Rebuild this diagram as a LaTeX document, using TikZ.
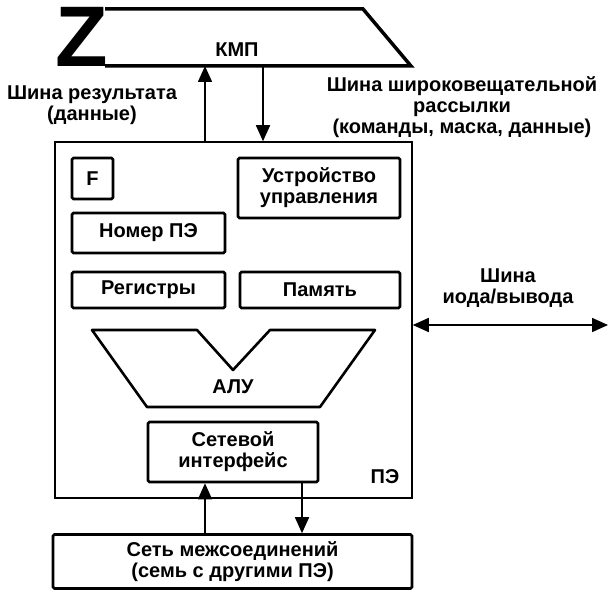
\documentclass[tikz,border=0pt]{standalone}
\usepackage{fontspec}
\setmainfont{Liberation Sans}
\usetikzlibrary{arrows.meta}

\begin{document}
\begin{tikzpicture}[x=1pt, y=-1pt,
txt/.style={font=\bfseries\fontsize{20}{21}\selectfont, align=center, inner sep=0pt},
blk/.style={draw, line width=2.6pt, rounded corners=1.5pt, txt},
bus/.style={line width=1.6pt, -{Triangle[length=16pt, width=14pt]}}]
\useasboundingbox (0,0) rectangle (609,593);
\draw[line width=3.5pt] (105,9) -- (363,9) -- (411,66) -- (105,66);
\node[font=\bfseries\fontsize{86}{86}\selectfont, inner sep=0pt] (zz) at (82,37) {Z};
\node[txt] (kmp) at (237,50) {КМП};
\coordinate (kmpl) at (205,66);
\coordinate (kmpr) at (263,66);
\node[draw, line width=1.5pt, minimum width=357, minimum height=356] (pe) at (233.5,320) {};
\node[txt] (pel) at (385,477) {ПЭ};
\draw[bus] (pe.north -| kmpl) -- (kmpl);
\draw[bus] (kmpr) -- (kmpr |- pe.north);
\node[txt] (res) at (92,105) {Шина результата\\(данные)};
\node[txt] (bc) at (462,107) {Шина широковещательной\\рассылки\\(команды, маска, данные)};
\node[blk, minimum width=41, minimum height=41] (f) at (92.5,178.5) {F};
\node[blk, minimum width=162, minimum height=60] (upr) at (319,188) {Устройство\\управления};
\node[blk, minimum width=153, minimum height=40] (nom) at (148.5,233) {Номер ПЭ};
\node[blk, minimum width=153, minimum height=36] (reg) at (148.5,290) {Регистры};
\node[blk, minimum width=160, minimum height=36] (mem) at (320,290) {Память};
\draw[line width=2.6pt, line join=round] (92,330) -- (197,330) -- (233,370) -- (270,330) -- (375,330) -- (320,407) -- (147,407) -- cycle;
\node[txt] (alu) at (233,387) {АЛУ};
\node[blk, minimum width=170, minimum height=60] (ni) at (233,452) {Сетевой\\интерфейс};
\node[blk, minimum width=359, minimum height=54] (net) at (232.5,561.5) {Сеть межсоединений\\(семь с другими ПЭ)};
\draw[bus] ([xshift=-27.5]net.north) -- ([xshift=-28]ni.south);
\draw[bus] ([xshift=69]ni.south) -- ([xshift=69.5]net.north);
\coordinate (io) at (608,325);
\draw[bus, {Triangle[length=16pt, width=14pt]}-{Triangle[length=16pt, width=14pt]}] (pe.east |- io) -- (io);
\node[txt] (iol) at (508,288) {Шина\\иода/вывода};
\end{tikzpicture}
\end{document}
